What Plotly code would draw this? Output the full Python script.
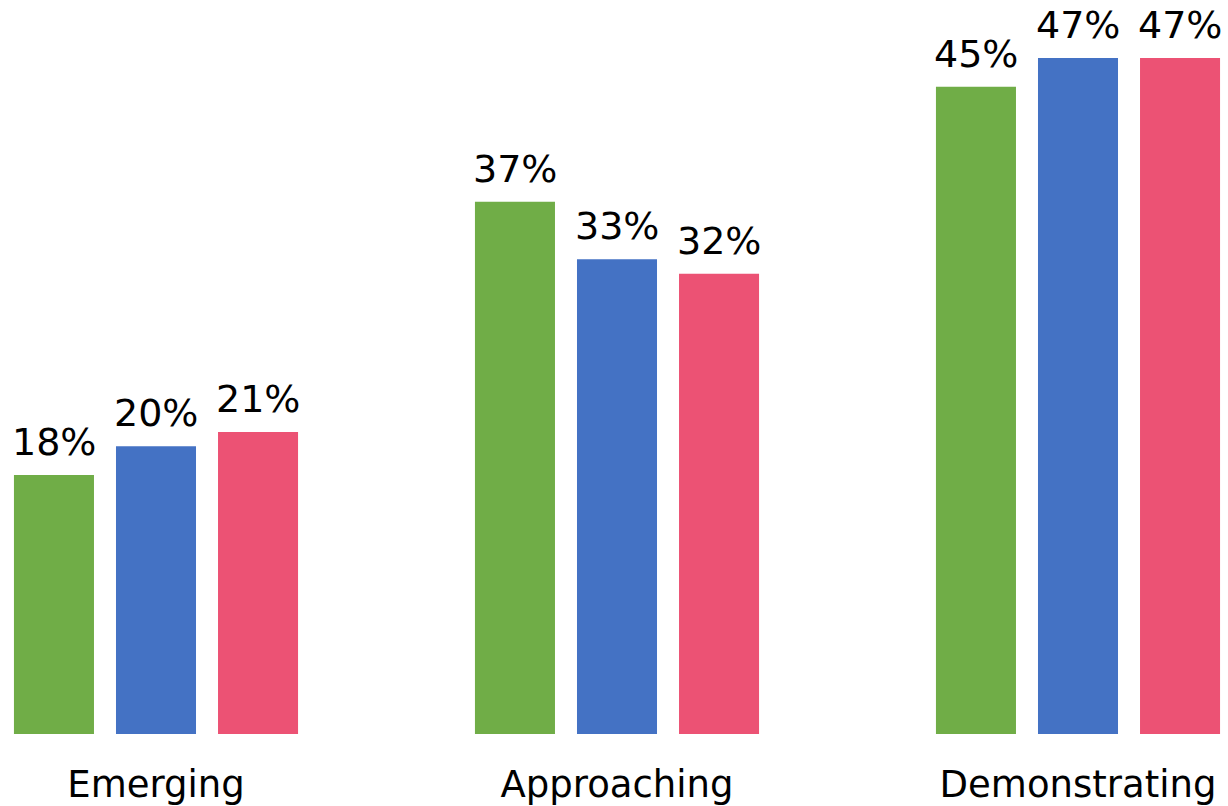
import plotly.graph_objects as go

categories = ["Emerging", "Approaching", "Demonstrating"]
series_a = [18, 37, 45]
series_b = [20, 33, 47]
series_c = [21, 32, 47]
colors = ["#70AD47", "#4472C4", "#EC5274"]

FONT = "DejaVu Sans"
slot_px = 102  # distance between bar centres within a group

fig = go.Figure()
all_series = [series_a, series_b, series_c]
for j, (vals, col) in enumerate(zip(all_series, colors)):
    fig.add_trace(go.Bar(
        x=categories, y=vals, marker=dict(color=col, line=dict(width=0)),
        showlegend=False, hoverinfo="skip",
    ))
    for cat, v in zip(categories, vals):
        fig.add_annotation(
            x=cat, y=v, xref="x", yref="y", text=f"{v}%", showarrow=False,
            xanchor="center", yanchor="bottom", xshift=(j - 1) * slot_px, yshift=9,
            font=dict(family=FONT, size=38, color="black"),
        )

fig.update_layout(
    width=1228, height=806,
    margin=dict(l=0, r=0, t=0, b=72),
    barmode="group", bargap=0.336, bargroupgap=0.2157,
    plot_bgcolor="white", paper_bgcolor="white",
    font=dict(family=FONT, size=37, color="black"),
    xaxis=dict(range=[-0.33839, 2.32538], showgrid=False, zeroline=False, showline=False,
               ticks="outside", ticklen=18, tickcolor="rgba(0,0,0,0)",
               tickfont=dict(family=FONT, size=37, color="black")),
    yaxis=dict(range=[0, 51.03], visible=False, showgrid=False, zeroline=False),
)
fig.write_html("out.html", config={"displayModeBar": False},
               post_script="document.body.style.margin='0';document.body.style.overflow='hidden';")
